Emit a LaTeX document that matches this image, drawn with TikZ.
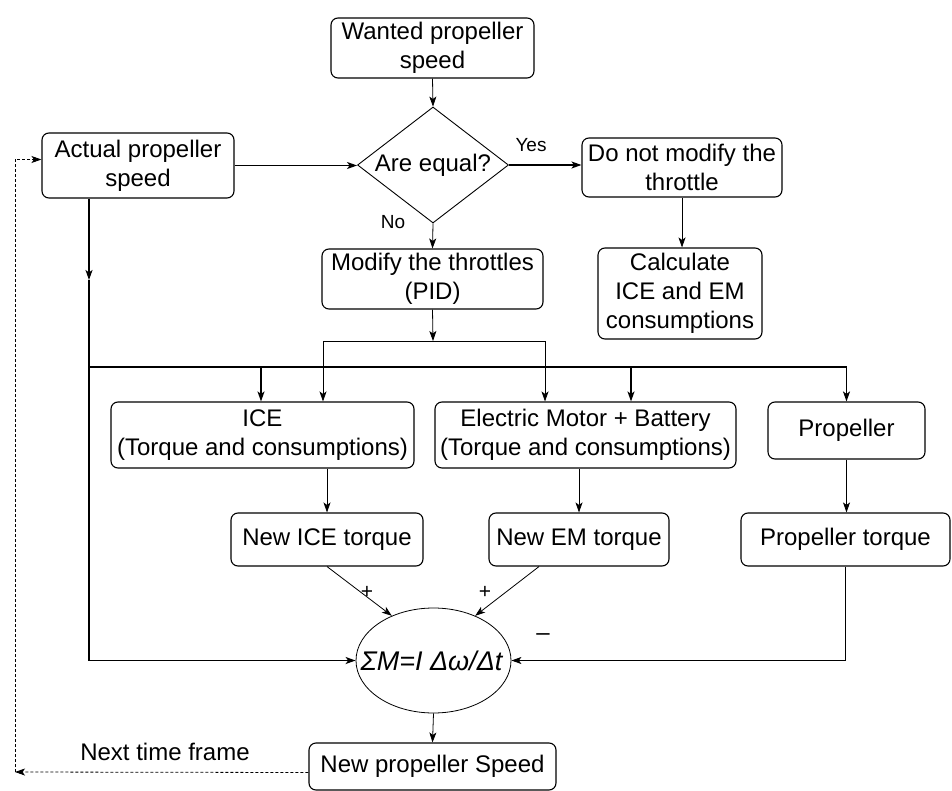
\documentclass[tikz,border=0pt]{standalone}
\usepackage{fontspec}
\setmainfont{Liberation Sans}
\usepackage{tikz}
\usetikzlibrary{arrows.meta}
\usetikzlibrary{calc}
\usetikzlibrary{shapes.geometric}
\usepackage{xcolor}

\begin{document}
\begin{tikzpicture}[x=1pt,y=-1pt,>={Stealth[length=10pt,width=7pt,inset=2.5pt]},
    box/.style={draw,rounded corners=7pt,line width=1.1pt,align=center,inner sep=1pt,font=\fontsize{24}{29}\selectfont},
    lbl/.style={font=\fontsize{19}{21}\selectfont},
    link/.style={line width=0.8pt,->},
    bus/.style={line width=1.5pt},
    ret/.style={line width=0.8pt,->,dash pattern=on 3pt off 2pt}]
    \useasboundingbox (0,0) rectangle (952,791);

    % boxes
    \node[box,minimum width=203pt,minimum height=60pt] (want) at (432.5,48) {Wanted propeller\\speed};
    \node[box,minimum width=192pt,minimum height=65pt] (actual) at (138,165.5) {Actual propeller\\speed};
    \node[draw,diamond,aspect=1.3,minimum width=151pt,minimum height=116pt,inner sep=0pt,line width=0.9pt,font=\fontsize{24}{29}\selectfont] (equal) at (433,165) {Are equal?};
    \node[box,minimum width=200pt,minimum height=59pt] (keep) at (682,167.5) {Do not modify the\\throttle};
    \node[box,minimum width=221pt,minimum height=60pt] (pid) at (432.5,279) {Modify the throttles\\(PID)};
    \node[box,minimum width=164pt,minimum height=91pt] (calc) at (680,293.5) {Calculate\\ICE and EM\\consumptions};
    \node[box,minimum width=303pt,minimum height=66pt] (ice) at (262.5,435) {ICE\\(Torque and consumptions)};
    \node[box,minimum width=301pt,minimum height=66pt] (em) at (585.5,435) {Electric Motor + Battery\\(Torque and consumptions)};
    \node[box,minimum width=157pt,minimum height=57pt] (prop) at (846.5,430.5) {Propeller};
    \node[box,minimum width=192pt,minimum height=53pt] (iceT) at (327,539.5) {New ICE torque};
    \node[box,minimum width=180pt,minimum height=53pt] (emT) at (579,539.5) {New EM torque};
    \node[box,minimum width=209pt,minimum height=53pt] (propT) at (845.5,539.5) {Propeller torque};
    \node[draw,ellipse,minimum width=155pt,minimum height=105pt,inner sep=0pt,line width=0.8pt] (sum) at (433.5,660.5) {};
    \node[inner sep=0pt,font=\fontsize{27}{30}\selectfont\itshape] (law) at ([xshift=-2pt]sum.center) {ΣM=I Δω/Δt};
    \node[box,minimum width=247pt,minimum height=47pt] (newspd) at (432.5,766.5) {New propeller Speed};

    % labels
    \node[lbl] (yes) at (531,145) {Yes};
    \node[lbl] (no) at (393,222) {No};
    \node[lbl,font=\fontsize{21}{23}\selectfont] (plus1) at (367,592) {+};
    \node[lbl,font=\fontsize{21}{23}\selectfont] (plus2) at (485,592) {+};
    \node[lbl,font=\fontsize{24}{26}\selectfont] (minus) at (543,637) {–};
    \node[font=\fontsize{24}{29}\selectfont] (next) at (165,752) {Next time frame};

    % junctions
    \coordinate (split) at (433,341);
    \coordinate (sL) at (323,341);
    \coordinate (sR) at (545,341);
    \coordinate (busL) at (89,367);
    \coordinate (busR) at (846.5,367);
    \coordinate (bIce) at (261,367);
    \coordinate (bEm) at (631,367);
    \coordinate (down) at (89,280);
    \coordinate (back) at (15,772);

    % connectors
    \draw[link] (want.south) -- (equal.north);
    \draw[link,line width=1.3pt] (actual.east) -- (actual.east -| equal.west);
    \draw[link,line width=1.1pt] (equal.east) -- (equal.east -| keep.west);
    \draw[link] (equal.south) -- (pid.north);
    \draw[link] (keep.south) -- (keep.south |- calc.north);
    \draw[link] (pid.south) -- (split);
    \draw[line width=0.8pt] (sL) -- (sR);
    \draw[link] (sL) -- (sL |- ice.north);
    \draw[link] (sR) -- (sR |- em.north);
    \draw[bus,->] (actual.south -| down) -- (down);
    \draw[bus,->] (down) |- (sum.west);
    \draw[bus] (busL) -- (busR);
    \draw[bus,->] (bIce) -- (bIce |- ice.north);
    \draw[bus,->] (bEm) -- (bEm |- em.north);
    \draw[bus,->] (busR) -- (prop.north);
    \draw[link] (iceT.north |- ice.south) -- (iceT.north);
    \draw[link] (emT.north |- em.south) -- (emT.north);
    \draw[link] (prop.south) -- (propT.north -| prop.south);
    \draw[link] (iceT.south) -- (sum.133);
    \draw[link] ([xshift=-40pt]emT.south) -- (sum.47);
    \draw[link] (propT.south) |- (sum.east);
    \draw[link] (sum.south) -- (newspd.north);
    \draw[ret] ([yshift=-6pt]newspd.west) -- (back);
    \draw[ret] (back) |- ([yshift=6pt]actual.west);
\end{tikzpicture}
\end{document}
